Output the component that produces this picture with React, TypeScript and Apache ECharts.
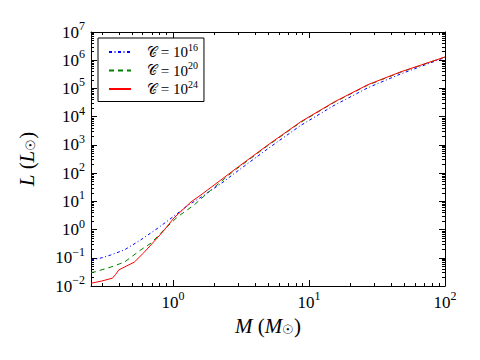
import React, { useEffect, useRef } from "react";
import * as echarts from "echarts";

const mBlue = [0.25, 0.3, 0.35, 0.44, 0.58, 0.78, 1.0, 1.29, 1.61, 2.25, 2.81, 5.0, 8.7, 15.3, 27, 47.5, 100];
const lBlue = [0.083, 0.1, 0.126, 0.19, 0.43, 1.15, 2.8, 7.2, 14, 42, 95, 740, 4900, 25000, 105000, 330000, 1250000];

const mGreen = [0.25, 0.27, 0.35, 0.44, 0.58, 0.69, 0.86, 1.08, 1.43, 1.9, 2.81, 5.0, 8.7, 15.3, 27, 47.5, 100];
const lGreen = [0.03, 0.032, 0.047, 0.07, 0.19, 0.33, 0.98, 2.8, 7.4, 25, 120, 950, 6300, 32000, 130000, 380000, 1300000];

const mRed = [0.25, 0.3, 0.36, 0.38, 0.4, 0.44, 0.52, 0.61, 0.72, 0.84, 1.02, 1.36, 1.61, 2.25, 2.81, 5.0, 8.7, 15.3, 27, 47.5, 100];
const lRed = [0.0125, 0.015, 0.019, 0.026, 0.037, 0.047, 0.07, 0.15, 0.36, 0.82, 2.6, 9.6, 17, 57, 128, 1000, 6600, 33000, 135000, 390000, 1300000];

const seriesNames = ["1e16", "1e20", "1e24"];
const legendExponents = ["16", "20", "24"];

const xMajorTicks = [1, 10, 100];
const xMinorTicks = [0.3, 0.4, 0.5, 0.6, 0.7, 0.8, 0.9, 2, 3, 4, 5, 6, 7, 8, 9, 20, 30, 40, 50, 60, 70, 80, 90];
const yMajorTicks = [1e-2, 1e-1, 1e0, 1e1, 1e2, 1e3, 1e4, 1e5, 1e6, 1e7];
const yMinorTicks: number[] = [];
for (let d = -2; d < 7; d++) {
  for (let k = 2; k <= 9; k++) yMinorTicks.push(+(k * Math.pow(10, d)).toPrecision(3));
}

const FONT = "Liberation Serif";

const powLabel = (v: number) => {
  const e = Math.round(Math.log10(v));
  if (Math.abs(Math.log10(v) - e) > 1e-6) return "";
  const es = e < 0 ? "\u2212" + Math.abs(e) : String(e);
  return `{b|10}{e|${es}}`;
};

const labelRich = {
  b: { fontSize: 17, lineHeight: 24, fontFamily: FONT, color: "#000" },
  e: { fontSize: 12, lineHeight: 12, fontFamily: FONT, color: "#000", verticalAlign: "top" },
};

const titleRich = {
  i: { fontStyle: "italic", fontSize: 21, fontFamily: FONT, color: "#000" },
  s: { fontSize: 13, fontFamily: "DejaVu Serif", verticalAlign: "bottom", lineHeight: 14, color: "#000" },
};

const zip = (a: number[], b: number[]) => a.map((v, i) => [v, b[i]]);

export default function App() {
  const ref = useRef<HTMLDivElement>(null);
  useEffect(() => {
    if (!ref.current) return;
    const chart = echarts.init(ref.current, null, { renderer: "svg" });
    const lineBlack = { show: true, lineStyle: { color: "#000", width: 1 } };
    const baseX = { type: "log", logBase: 10, min: 0.25, max: 100, gridIndex: 0, splitLine: { show: false } };
    const baseY = { type: "log", logBase: 10, min: 0.01, max: 1e7, gridIndex: 0, splitLine: { show: false } };
    const option: any = {
      animation: false,
      backgroundColor: "#fff",
      grid: { left: 91, right: 35, top: 32, bottom: 74, containLabel: false },
      legend: {
        left: 98,
        top: 38,
        orient: "vertical",
        data: seriesNames,
        backgroundColor: "#fff",
        borderColor: "#000",
        borderWidth: 1,
        borderRadius: 0,
        padding: [4, 6, 5, 10],
        itemWidth: 22,
        itemHeight: 14,
        itemGap: 1,
        itemStyle: { opacity: 0, color: "rgba(0,0,0,0)", borderWidth: 0 },
        formatter: (name: string) => {
          const i = seriesNames.indexOf(name);
          return `{c|\u{1D49E}}{t| = 10}{e|${legendExponents[i]}}`;
        },
        textStyle: {
          fontFamily: FONT,
          fontSize: 15,
          color: "#000",
          padding: [0, 0, 0, 11],
          rich: {
            c: { fontSize: 14, lineHeight: 20, color: "#000" },
            t: { fontSize: 15, lineHeight: 20, fontFamily: FONT, color: "#000" },
            e: { fontSize: 10, lineHeight: 11, fontFamily: FONT, color: "#000", verticalAlign: "top" },
          },
        },
      },
      xAxis: [
        {
          ...baseX,
          position: "bottom",
          axisLine: lineBlack,
          axisTick: { show: true, inside: true, length: 6, customValues: xMajorTicks, lineStyle: { color: "#000" } },
          axisLabel: { customValues: xMajorTicks, formatter: powLabel, margin: 4, rich: labelRich },
          name: "{i|M} ({i|M}{s|\u2609})",
          nameLocation: "middle",
          nameGap: 25,
          nameTextStyle: { fontFamily: FONT, fontSize: 21, color: "#000", rich: titleRich },
        },
        {
          ...baseX,
          position: "bottom",
          axisLine: { show: false },
          axisTick: { show: true, inside: true, length: 3, customValues: xMinorTicks, lineStyle: { color: "#000" } },
          axisLabel: { show: false },
        },
        {
          ...baseX,
          position: "top",
          axisLine: lineBlack,
          axisTick: { show: true, inside: true, length: 6, customValues: xMajorTicks, lineStyle: { color: "#000" } },
          axisLabel: { show: false },
        },
        {
          ...baseX,
          position: "top",
          axisLine: { show: false },
          axisTick: { show: true, inside: true, length: 3, customValues: xMinorTicks, lineStyle: { color: "#000" } },
          axisLabel: { show: false },
        },
      ],
      yAxis: [
        {
          ...baseY,
          position: "left",
          axisLine: lineBlack,
          axisTick: { show: true, inside: true, length: 6, customValues: yMajorTicks, lineStyle: { color: "#000" } },
          axisLabel: { customValues: yMajorTicks, formatter: powLabel, margin: 6, rich: labelRich },
          name: "{i|L} ({i|L}{s|\u2609})",
          nameLocation: "middle",
          nameGap: 54,
          nameRotate: 90,
          nameTextStyle: { fontFamily: FONT, fontSize: 21, color: "#000", rich: titleRich },
        },
        {
          ...baseY,
          position: "left",
          axisLine: { show: false },
          axisTick: { show: true, inside: true, length: 3, customValues: yMinorTicks, lineStyle: { color: "#000" } },
          axisLabel: { show: false },
        },
        {
          ...baseY,
          position: "right",
          axisLine: lineBlack,
          axisTick: { show: true, inside: true, length: 6, customValues: yMajorTicks, lineStyle: { color: "#000" } },
          axisLabel: { show: false },
        },
        {
          ...baseY,
          position: "right",
          axisLine: { show: false },
          axisTick: { show: true, inside: true, length: 3, customValues: yMinorTicks, lineStyle: { color: "#000" } },
          axisLabel: { show: false },
        },
      ],
      series: [
        {
          name: seriesNames[0],
          type: "line",
          data: zip(mBlue, lBlue),
          showSymbol: false,
          symbol: "none",
          color: "#0000ff",
          lineStyle: { color: "#0000ff", width: 1, type: [3, 2.5, 1, 2.5] },
        },
        {
          name: seriesNames[1],
          type: "line",
          data: zip(mGreen, lGreen),
          showSymbol: false,
          symbol: "none",
          color: "#008000",
          lineStyle: { color: "#008000", width: 1, type: [5, 4] },
        },
        {
          name: seriesNames[2],
          type: "line",
          data: zip(mRed, lRed),
          showSymbol: false,
          symbol: "none",
          color: "#ff0000",
          lineStyle: { color: "#ff0000", width: 1, type: "solid" },
        },
      ],
    };
    chart.setOption(option);
    return () => chart.dispose();
  }, []);
  return <div ref={ref} style={{ width: 480, height: 360, position: "absolute", left: 0, top: 0 }} />;
}
